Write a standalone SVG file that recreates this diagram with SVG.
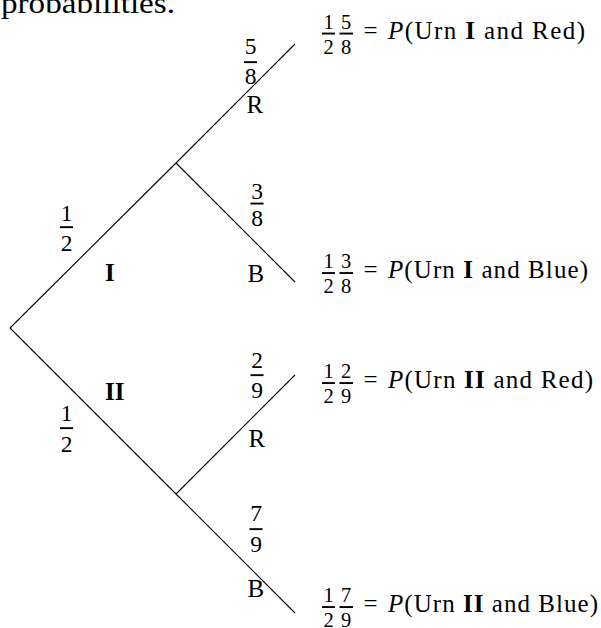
<svg xmlns="http://www.w3.org/2000/svg" width="601" height="628" viewBox="0 0 601 628">
<style>
text{font-family:"Liberation Serif","Times New Roman",serif;fill:#000}
.m{font-size:25px}
.d{font-size:23.5px;text-anchor:middle}
.s{font-size:20.5px;text-anchor:middle}
.b{font-weight:bold}
.i{font-style:italic}
.bar{fill:#000}
.edge{stroke:#000;stroke-width:1.1;fill:none}
</style>
<rect width="601" height="628" fill="#fff"/>
<text x="1" y="13" style="font-size:29px" textLength="174" lengthAdjust="spacingAndGlyphs">probabilities.</text>
<g id="connectors">
<line class="edge" x1="10" y1="328" x2="176" y2="163"/>
<line class="edge" x1="10" y1="328" x2="176" y2="494"/>
<line class="edge" x1="176" y1="163" x2="295" y2="44"/>
<line class="edge" x1="176" y1="163" x2="295" y2="282"/>
<line class="edge" x1="176" y1="494" x2="295" y2="375"/>
<line class="edge" x1="176" y1="494" x2="295" y2="613"/>
</g>
<g id="edge-labels">
<g id="e-I"><text class="d" x="66.5" y="220.5">1</text><rect class="bar" x="60" y="226.2" width="13" height="1.9"/><text class="d" x="66.5" y="250.5">2</text><text class="m b" x="105" y="281">I</text></g>
<g id="e-II"><text class="d" x="66.5" y="420.5">1</text><rect class="bar" x="60" y="427.2" width="13" height="1.9"/><text class="d" x="66.5" y="451.5">2</text><text class="m b" x="105" y="400">II</text></g>
<g id="e-IR"><text class="d" x="250.5" y="53.5">5</text><rect class="bar" x="244" y="61.2" width="13" height="1.9"/><text class="d" x="250.5" y="83.5">8</text><text class="m" x="246.5" y="113">R</text></g>
<g id="e-IB"><text class="d" x="257" y="198.5">3</text><rect class="bar" x="250.5" y="202.6" width="13" height="1.9"/><text class="d" x="257" y="225.5">8</text><text class="m" x="247.5" y="282">B</text></g>
<g id="e-IIR"><text class="d" x="257" y="367.5">2</text><rect class="bar" x="250.5" y="374.2" width="13" height="1.9"/><text class="d" x="257" y="397.5">9</text><text class="m" x="248.5" y="447">R</text></g>
<g id="e-IIB"><text class="d" x="256" y="520.5">7</text><rect class="bar" x="249.5" y="528.2" width="13" height="1.9"/><text class="d" x="256" y="551.5">9</text><text class="m" x="247.5" y="597">B</text></g>
</g>
<g id="leaf-IR">
<text class="s" x="328.5" y="28.5">1</text><rect class="bar" x="322" y="32.6" width="13" height="1.9"/><text class="s" x="328.5" y="53.5">2</text>
<text class="s" x="346" y="28.5">5</text><rect class="bar" x="339.5" y="32.6" width="13.5" height="1.9"/><text class="s" x="346" y="53.5">8</text>
<text class="m" x="370.5" y="38.5" text-anchor="middle">=</text>
<text class="m" x="388" y="38.5" textLength="197" lengthAdjust="spacing"><tspan class="i">P</tspan>(Urn <tspan class="b">I</tspan> and Red)</text>
</g>
<g id="leaf-IB">
<text class="s" x="328.5" y="268">1</text><rect class="bar" x="322" y="272.1" width="13" height="1.9"/><text class="s" x="328.5" y="293">2</text>
<text class="s" x="346" y="268">3</text><rect class="bar" x="339.5" y="272.1" width="13.5" height="1.9"/><text class="s" x="346" y="293">8</text>
<text class="m" x="370.5" y="278" text-anchor="middle">=</text>
<text class="m" x="388" y="278" textLength="200" lengthAdjust="spacing"><tspan class="i">P</tspan>(Urn <tspan class="b">I</tspan> and Blue)</text>
</g>
<g id="leaf-IIR">
<text class="s" x="328.5" y="378">1</text><rect class="bar" x="322" y="382.1" width="13" height="1.9"/><text class="s" x="328.5" y="403">2</text>
<text class="s" x="346" y="378">2</text><rect class="bar" x="339.5" y="382.1" width="13.5" height="1.9"/><text class="s" x="346" y="403">9</text>
<text class="m" x="370.5" y="388" text-anchor="middle">=</text>
<text class="m" x="388" y="388" textLength="205" lengthAdjust="spacing"><tspan class="i">P</tspan>(Urn <tspan class="b">II</tspan> and Red)</text>
</g>
<g id="leaf-IIB">
<text class="s" x="328.5" y="602">1</text><rect class="bar" x="322" y="606.1" width="13" height="1.9"/><text class="s" x="328.5" y="627">2</text>
<text class="s" x="346" y="602">7</text><rect class="bar" x="339.5" y="606.1" width="13.5" height="1.9"/><text class="s" x="346" y="627">9</text>
<text class="m" x="370.5" y="612" text-anchor="middle">=</text>
<text class="m" x="388" y="612" textLength="210" lengthAdjust="spacing"><tspan class="i">P</tspan>(Urn <tspan class="b">II</tspan> and Blue)</text>
</g>
</svg>
